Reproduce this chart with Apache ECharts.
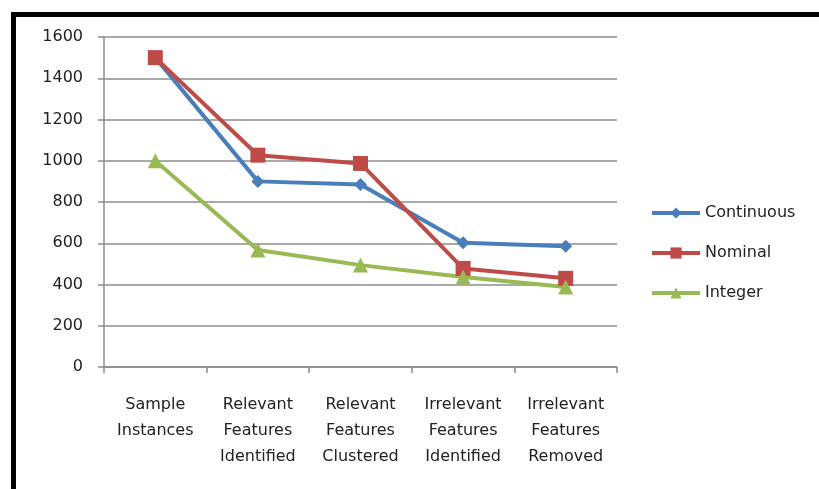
<!DOCTYPE html>
<html>
<head>
<meta charset="utf-8">
<script src="https://cdn.jsdelivr.net/npm/echarts@6/dist/echarts.min.js"></script>
<style>
  html, body { margin: 0; padding: 0; background: #fff; }
  #chart { width: 819px; height: 489px; }
</style>
</head>
<body>
<div id="chart"></div>
<script>
// Category labels along the x axis
const categories = [
  'Sample\nInstances',
  'Relevant\nFeatures\nIdentified',
  'Relevant\nFeatures\nClustered',
  'Irrelevant\nFeatures\nIdentified',
  'Irrelevant\nFeatures\nRemoved'
];

// Values per attribute type
const continuous = [1500, 900, 885, 602, 585];
const nominal    = [1500, 1027, 987, 478, 430];
const integer    = [1000, 567, 494, 436, 388];

// Value axis ticks
const yTicks = [0, 200, 400, 600, 800, 1000, 1200, 1400, 1600];

const chart = echarts.init(document.getElementById('chart'));

const font = 'DejaVu Sans';
const lineSeries = (name, data, color, symbol, size) => ({
  name,
  type: 'line',
  data,
  symbol,
  symbolSize: size,
  showSymbol: true,
  lineStyle: { color, width: 4 },
  itemStyle: { color },
  emphasis: { disabled: true },
  animation: false
});

chart.setOption({
  animation: false,
  backgroundColor: '#fff',
  grid: { left: 104, right: 202, top: 37, bottom: 122 },
  legend: {
    orient: 'vertical',
    left: 650,
    top: 205,
    padding: 0,
    itemWidth: 48,
    itemHeight: 14,
    itemGap: 24,
    lineStyle: { width: 4 },
    textStyle: { fontFamily: font, fontSize: 16, color: '#222' },
    data: ['Continuous', 'Nominal', 'Integer']
  },
  xAxis: {
    type: 'category',
    data: categories,
    boundaryGap: true,
    axisLine: { lineStyle: { color: '#8c8c8c', width: 1.5 } },
    axisTick: { show: true, length: 6, lineStyle: { color: '#8c8c8c', width: 1.5 } },
    axisLabel: {
      interval: 0,
      margin: 25,
      fontFamily: font,
      fontSize: 16,
      lineHeight: 26,
      color: '#222'
    }
  },
  yAxis: {
    type: 'value',
    min: yTicks[0],
    max: yTicks[yTicks.length - 1],
    interval: 200,
    axisLine: { show: true, lineStyle: { color: '#8c8c8c', width: 1.5 } },
    axisTick: { show: true, length: 6, lineStyle: { color: '#8c8c8c', width: 1.5 } },
    splitLine: { lineStyle: { color: '#8c8c8c', width: 1.5 } },
    axisLabel: {
      margin: 21,
      fontFamily: font,
      fontSize: 16,
      color: '#222',
      formatter: v => yTicks.includes(v) ? String(v) : ''
    }
  },
  series: [
    lineSeries('Continuous', continuous, '#4a7ebb', 'diamond', 13),
    lineSeries('Nominal', nominal, '#be4b48', 'rect', 15),
    lineSeries('Integer', integer, '#98b954', 'triangle', 15)
  ],
  graphic: [
    // black frame along the top and left edges
    { type: 'rect', shape: { x: 11, y: 12, width: 808, height: 5 }, style: { fill: '#000' }, silent: true },
    { type: 'rect', shape: { x: 11, y: 12, width: 5, height: 477 }, style: { fill: '#000' }, silent: true }
  ]
});
</script>
</body>
</html>
